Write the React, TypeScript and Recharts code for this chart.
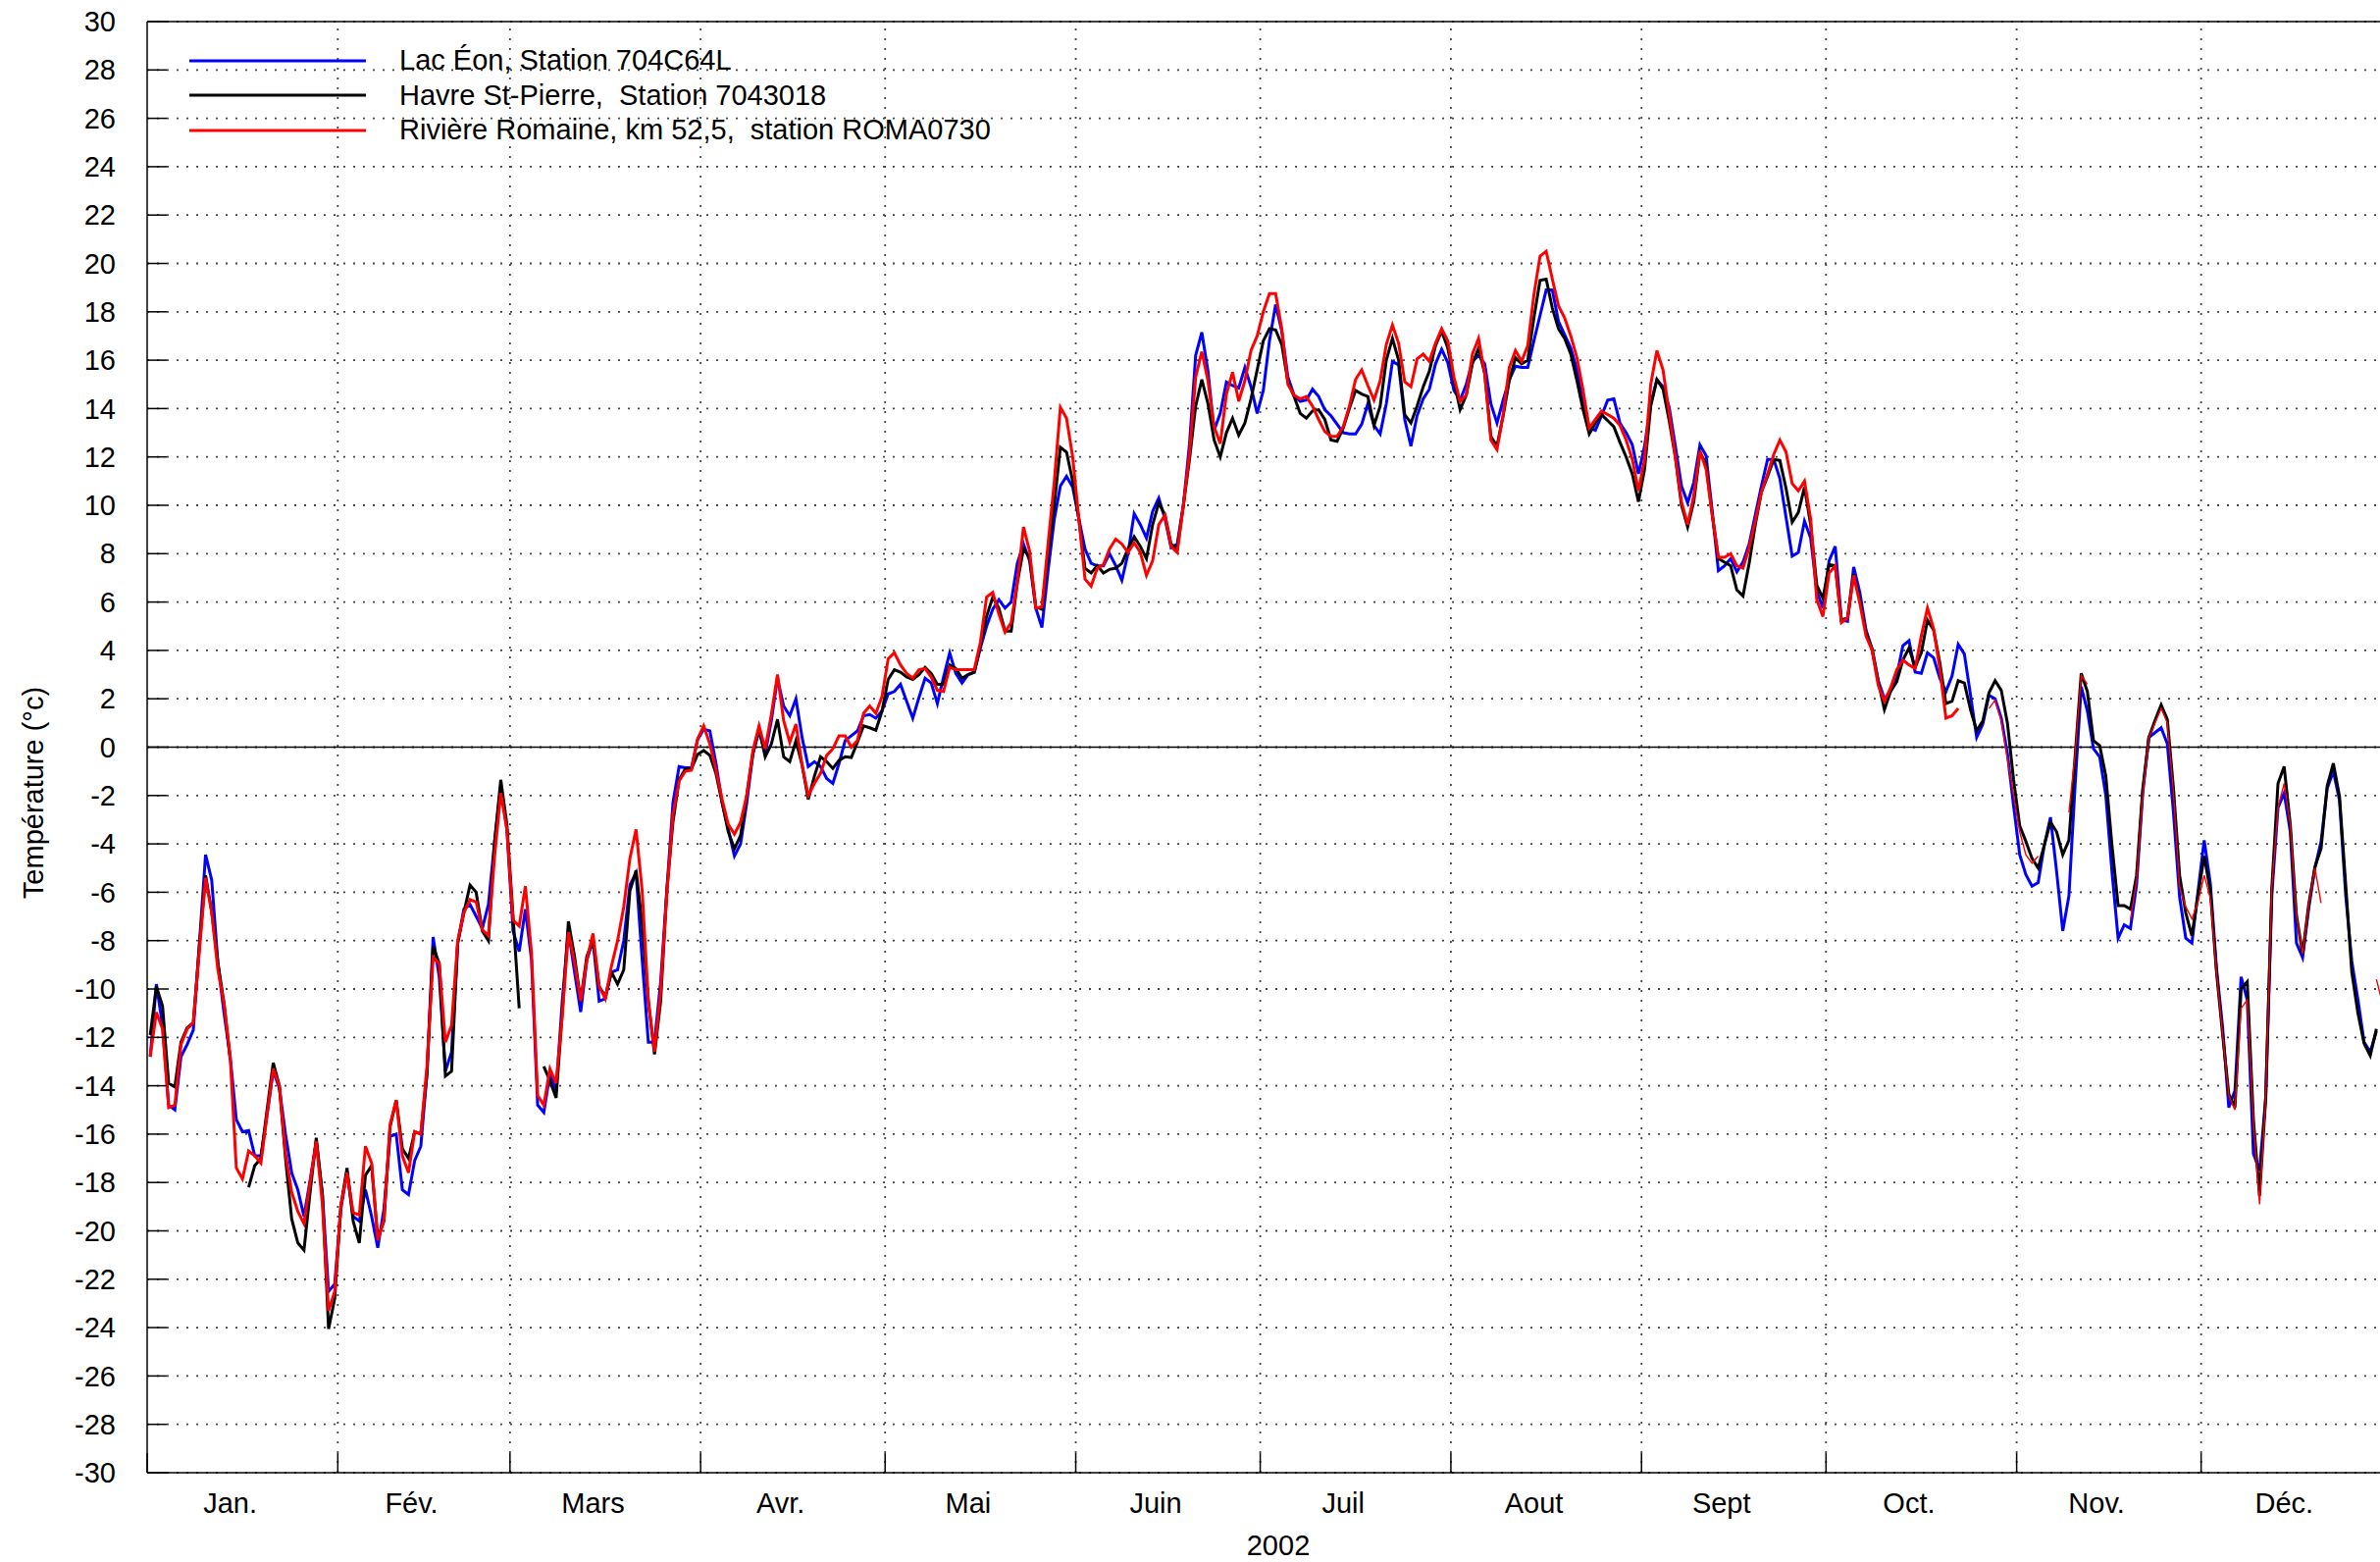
import React from 'react';
import { LineChart, Line, XAxis, YAxis, CartesianGrid, ReferenceLine } from 'recharts';

const FONT = "'Liberation Sans', Arial, sans-serif";

const monthLengths = [31, 28, 31, 30, 31, 30, 31, 31, 30, 31, 30, 31];
const monthNames = ['Jan.', 'Fév.', 'Mars', 'Avr.', 'Mai', 'Juin', 'Juil', 'Aout', 'Sept', 'Oct.', 'Nov.', 'Déc.'];
const yTicks = [-30, -28, -26, -24, -22, -20, -18, -16, -14, -12, -10, -8, -6, -4, -2, 0, 2, 4, 6, 8, 10, 12, 14, 16, 18, 20, 22, 24, 26, 28, 30];

// daily mean temperatures 2002, index 0 = 1 Jan
const lacEon = [
  -12.8, -9.8, -11.5, -14.8, -15.0, -12.8, -12.3, -11.7, -8.1, -4.45,
  -5.5, -8.9, -11.0, -12.8, -15.4, -15.9, -15.85, -16.9, -16.9, -15.2,
  -13.4, -14.1, -16.0, -17.6, -18.3, -19.4, -17.9, -16.3, -18.5, -22.5,
  -22.2, -19.1, -17.55, -19.4, -19.6, -18.3, -19.4, -20.7, -19.1, -16.1,
  -16.0, -18.3, -18.5, -17.1, -16.5, -13.5, -7.85, -9.5, -13.4, -12.6,
  -8.1, -6.7, -6.5, -7.0, -7.5, -6.5, -3.9, -1.65, -3.4, -7.6,
  -8.45, -6.7, -8.8, -14.8, -15.1, -13.5, -14.2, -10.5, -7.6, -9.3,
  -10.95, -8.8, -8.0, -10.5, -10.4, -9.3, -9.2, -8.0, -5.7, -5.2,
  -8.8, -12.2, -12.2, -9.7, -5.95, -2.3, -0.8, -0.85, -0.85, 0.3,
  0.74, 0.67, -0.68, -2.3, -3.4, -4.5, -4.0, -2.3, -0.27, 0.67,
  -0.27, 1.1, 2.85, 1.7, 1.3, 2.0, 0.4, -0.8, -0.6, -0.8,
  -1.3, -1.5, -0.68, 0.27, 0.47, 0.67, 1.3, 1.35, 1.2, 1.5,
  2.2, 2.3, 2.6, 1.9, 1.2, 2.05, 2.85, 2.65, 1.8, 2.9,
  3.9, 3.05, 2.65, 3.0, 3.1, 4.1, 5.0, 5.7, 6.1, 5.75,
  6.0, 7.6, 8.4, 7.7, 5.75, 4.95, 7.3, 9.4, 10.8, 11.2,
  10.75, 9.45, 8.2, 7.6, 7.5, 7.5, 8.0, 7.5, 6.9, 8.0,
  9.65, 9.2, 8.65, 9.75, 10.3, 9.45, 8.25, 8.4, 10.0, 12.55,
  16.2, 17.15, 15.55, 13.1, 13.8, 15.1, 14.95, 14.85, 15.7, 14.9,
  13.8, 14.75, 16.8, 18.3, 17.2, 15.3, 14.55, 14.3, 14.35, 14.8,
  14.5, 13.95, 13.7, 13.35, 13.0, 12.95, 12.95, 13.35, 14.2, 13.3,
  12.95, 14.2, 15.95, 15.8, 13.55, 12.45, 13.7, 14.4, 14.8, 15.85,
  16.45, 15.9, 14.75, 14.35, 15.0, 15.95, 16.2, 15.85, 14.2, 13.4,
  14.35, 15.2, 15.75, 15.7, 15.7, 16.8, 17.85, 18.9, 18.9, 17.6,
  17.05, 16.5, 15.6, 14.3, 13.2, 13.1, 13.7, 14.35, 14.4, 13.4,
  13.0, 12.5, 11.3, 12.45, 14.2, 15.2, 14.9, 14.05, 12.45, 10.8,
  10.1, 10.95, 12.5, 12.05, 9.75, 7.3, 7.5, 7.8, 7.25, 7.65,
  8.4, 9.6, 10.8, 11.9, 11.9, 11.1, 9.5, 7.9, 8.05, 9.35,
  8.65, 6.45, 5.75, 7.7, 8.3, 5.25, 5.2, 7.45, 6.4, 4.85,
  4.05, 2.75, 2.0, 2.3, 2.95, 4.2, 4.4, 3.1, 3.05, 3.9,
  3.7, 2.85, 2.3, 2.95, 4.25, 3.85, 2.15, 0.4, 0.95, 2.15,
  2.0, 1.2, -0.27, -2.43, -4.45, -5.27, -5.75, -5.6, -4.05, -2.9,
  -5.15, -7.6, -6.15, -1.6, 2.5, 1.5, -0.07, -0.4, -2.0, -5.15,
  -7.9, -7.35, -7.5, -5.7, -1.9, 0.4, 0.6, 0.8, 0.14, -2.7,
  -6.2, -7.9, -8.1, -5.95, -3.85, -5.65, -9.15, -11.6, -14.9, -14.2,
  -9.5, -10.45, -16.8, -17.5, -14.5, -6.1, -2.5, -1.9, -3.5, -8.1,
  -8.7, -6.65, -5.0, -3.9, -1.7, -1.0, -2.2, -6.1, -8.85, -10.45,
  -12.2, -12.6, -11.75,
];

const havre = [
  -11.9, -9.9, -10.7, -13.9, -14.05, -12.2, -11.6, -11.4, -8.2, -5.3,
  -6.8, -8.9, -10.6, -12.9, null, null, -18.2, -17.3, -17.0, -15.0,
  -13.05, -14.0, -17.0, -19.5, -20.5, -20.8, -18.4, -16.15, -18.5, -24.05,
  -22.8, -18.95, -17.4, -19.6, -20.5, -17.7, -17.3, -20.3, -19.6, -15.7,
  -14.6, -16.6, -17.0, -15.9, -16.0, -13.5, -8.25, -8.95, -13.6, -13.4,
  -8.1, -6.85, -5.7, -6.0, -7.6, -8.0, -3.9, -1.35, -3.2, -7.0,
  -10.8, null, null, null, -13.2, -13.8, -14.5, -11.0, -7.2, -8.65,
  -10.5, -8.65, -8.0, -9.9, -10.3, -9.3, -9.8, -9.2, -5.95, -5.1,
  -7.3, -10.5, -12.7, -10.5, -5.95, -3.1, -1.35, -0.9, -0.9, -0.3,
  -0.14, -0.34, -1.1, -2.3, -3.5, -4.2, -3.65, -2.0, -0.27, 0.8,
  -0.4, 0.13, 1.15, -0.4, -0.6, 0.27, -0.74, -2.16, -1.2, -0.4,
  -0.6, -0.88, -0.54, -0.4, -0.43, 0.2, 0.88, 0.8, 0.7, 1.5,
  2.8, 3.2, 3.1, 2.9, 2.8, 3.0, 3.3, 3.05, 2.6, 2.6,
  3.4, 3.25, 2.85, 3.0, 3.1, 4.2, 5.4, 6.2, 5.75, 4.8,
  4.8, 6.8, 8.2, 7.85, 5.8, 5.7, 8.0, 10.0, 12.4, 12.2,
  11.0, 9.45, 7.4, 7.2, 7.5, 7.2, 7.35, 7.4, 7.6, 8.2,
  8.7, 8.3, 7.8, 9.2, 10.1, 9.6, 8.4, 8.2, 10.0, 11.9,
  14.1, 15.2, 14.2, 12.7, 12.0, 13.0, 13.6, 12.9, 13.4, 14.4,
  15.6, 16.8, 17.3, 17.25, 16.65, 15.1, 14.5, 13.8, 13.6, 13.9,
  13.95, 13.55, 12.7, 12.65, 13.2, 14.0, 14.75, 14.6, 14.5, 13.3,
  14.1, 16.0, 16.9, 16.0, 13.75, 13.4, 14.1, 14.9, 15.55, 16.6,
  17.2, 16.5, 15.15, 13.95, 14.55, 15.85, 16.5, 15.45, 12.85, 12.45,
  13.7, 15.15, 16.1, 15.85, 16.0, 17.75, 19.3, 19.35, 18.15, 17.3,
  16.9, 16.25, 15.15, 13.95, 12.95, 13.4, 13.75, 13.5, 13.25, 12.6,
  12.0, 11.3, 10.15, 11.5, 14.1, 15.2, 14.8, 13.5, 12.0, 10.0,
  9.1, 10.15, 12.2, 11.7, 9.6, 7.8, 7.65, 7.5, 6.5, 6.25,
  7.6, 9.2, 10.55, 11.2, 11.9, 11.85, 10.7, 9.3, 9.7, 10.75,
  9.2, 6.7, 6.15, 7.55, 7.5, 5.25, 5.35, 7.15, 6.1, 4.75,
  4.05, 2.7, 1.55, 2.3, 2.7, 3.6, 4.1, 3.3, 3.9, 5.25,
  4.85, 3.5, 1.8, 1.9, 2.75, 2.65, 1.55, 0.68, 1.08, 2.25,
  2.75, 2.35, 1.0, -1.35, -3.25, -3.9, -4.6, -5.0, -4.05, -3.1,
  -3.5, -4.45, -3.85, -0.4, 3.05, 2.3, 0.27, 0.07, -1.2, -4.05,
  -6.55, -6.55, -6.7, -5.3, -1.75, 0.4, 1.1, 1.75, 1.15, -1.7,
  -5.3, -6.85, -7.8, -6.1, -4.5, -5.95, -9.3, -11.9, -14.35, -14.9,
  -10.0, -9.7, -15.4, -18.55, -14.5, -5.8, -1.5, -0.8, -3.2, -6.95,
  -8.55, -6.5, -4.95, -4.2, -1.6, -0.67, -2.04, -5.65, -9.3, -11.0,
  -12.25, -12.75, -11.65,
];

// station ROMA0730, thick trace up to 21 Oct
const romaine = [
  -12.8, -10.96, -11.65, -14.9, -14.8, -12.3, -11.65, -11.4, -8.4, -5.4,
  -6.85, -9.2, -10.6, -12.8, -17.4, -17.85, -16.7, -16.9, -17.2, -15.2,
  -13.3, -14.0, -16.8, -18.4, -19.2, -19.7, -18.0, -16.3, -18.9, -23.3,
  -22.5, -18.95, -17.6, -19.25, -19.35, -16.5, -17.2, -20.4, -19.55, -15.6,
  -14.6, -16.9, -17.6, -15.9, -16.0, -13.2, -8.7, -8.95, -12.2, -11.5,
  -8.0, -6.85, -6.3, -6.4, -7.55, -7.8, -4.5, -1.9, -3.4, -7.15,
  -7.4, -5.75, -8.5, -14.4, -14.8, -13.3, -13.9, -11.1, -7.65, -8.9,
  -10.5, -8.8, -7.7, -9.9, -10.4, -9.05, -8.0, -6.6, -4.6, -3.4,
  -5.95, -10.5, -12.6, -10.1, -6.1, -2.8, -1.4, -1.0, -0.95, 0.34,
  0.88, 0.13, -0.95, -2.16, -3.2, -3.6, -3.1, -2.0, -0.14, 0.88,
  -0.07, 1.35, 3.0, 1.1, 0.2, 0.95, -0.74, -2.0, -1.5, -1.08,
  -0.34, -0.07, 0.47, 0.47, 0.0, 0.27, 1.4, 1.7, 1.4, 2.1,
  3.65, 3.9, 3.4, 3.05, 2.85, 3.2, 3.25, 2.9, 2.35, 2.3,
  3.3, 3.2, 3.2, 3.2, 3.2, 4.35, 6.2, 6.4, 5.5, 4.75,
  5.15, 6.8, 9.1, 8.1, 5.75, 5.8, 8.4, 10.95, 14.05, 13.6,
  12.0, 9.45, 6.95, 6.65, 7.4, 7.55, 8.2, 8.6, 8.4, 8.05,
  8.45, 8.05, 7.1, 7.7, 9.2, 9.6, 8.3, 8.05, 10.0, 12.15,
  15.3, 16.35, 15.15, 13.25, 12.55, 14.6, 15.5, 14.3, 15.15, 16.4,
  17.0, 18.0, 18.75, 18.75, 17.3, 15.0, 14.55, 14.4, 14.5, 14.1,
  13.55, 13.05, 12.85, 12.85, 13.25, 14.1, 15.2, 15.6, 14.95, 14.35,
  15.15, 16.65, 17.45, 16.7, 15.1, 14.9, 16.05, 16.25, 15.95, 16.7,
  17.3, 16.8, 15.3, 14.3, 14.55, 16.25, 16.9, 15.45, 12.7, 12.3,
  13.75, 15.7, 16.4, 15.95, 16.6, 18.7, 20.3, 20.5, 19.35, 18.25,
  17.75, 17.0, 16.1, 14.75, 13.2, 13.55, 13.9, 13.75, 13.6, 13.3,
  12.7, 11.9, 10.6, 11.9, 15.0, 16.4, 15.6, 13.8, 12.0, 10.15,
  9.2, 10.4, 12.25, 11.5, 9.6, 7.85, 7.85, 8.0, 7.5, 7.4,
  8.25, 9.35, 10.55, 11.3, 12.1, 12.7, 12.2, 10.9, 10.6, 11.0,
  9.45, 6.1, 5.4, 7.2, 7.5, 5.15, 5.35, 7.1, 5.95, 4.6,
  4.0, 2.55, 1.9, 2.45, 3.2, 3.6, 3.4, 3.25, 4.6, 5.75,
  4.9, 3.25, 1.2, 1.3, 1.6,
];

// same station, thin trace from 22 Oct
const romaineLateStart = 295;
const romaineLate = [
  null, null, null, null, 1.6, 1.95, 1.1, -0.5, -2.0, -3.5,
  -4.45, -4.8, -4.5, null, null, null, null, -2.7, -0.3, 2.97,
  2.6, null, null, null, null, null, null, -7.15, -5.5, -2.0,
  0.4, 1.0, 1.6, 1.0, -1.9, -5.8, -6.6, -7.1, -6.4, -5.3,
  -6.25, -9.3, -11.9, -14.4, -15.0, -10.8, -10.45, -15.5, -18.9, -14.5,
  -5.8, -2.5, -1.5, -3.2, -6.95, -8.55, -6.5, -5.0, -6.45, null,
  null, null, null, null, null, null, null, -9.6, -10.6,
];

const series = [
  { key: 'lac', name: 'Lac Éon, Station 704C64L', color: '#0000ff' },
  { key: 'havre', name: 'Havre St-Pierre,  Station 7043018', color: '#000000' },
  { key: 'rom', name: 'Rivière Romaine, km 52,5,  station ROMA0730', color: '#ff0000' },
];

const monthStarts = monthLengths.reduce((acc, len) => [...acc, acc[acc.length - 1] + len], [0]);
const labelPos = monthLengths.map((len, i) => monthStarts[i] + len / 2 - 2);
const xTicks = [...monthStarts, ...labelPos].sort((a, b) => a - b);

const data = Array.from({ length: 365 }, (_, i) => ({
  x: i + 0.5,
  lac: lacEon[i] ?? null,
  havre: havre[i] ?? null,
  rom: romaine[i] ?? null,
  romLate: i >= romaineLateStart ? romaineLate[i - romaineLateStart] ?? null : null,
}));

function MonthTick({ x, y, payload }: any) {
  const idx = labelPos.findIndex((p) => Math.abs(p - payload.value) < 1e-6);
  if (idx >= 0) {
    return (
      <text x={x} y={y + 31} dy="0.35em" textAnchor="middle" fontSize={29} fontFamily={FONT} fill="#000">
        {monthNames[idx]}
      </text>
    );
  }
  return <line x1={x} y1={y} x2={x} y2={y - 20} stroke="#000" strokeWidth={1.5} />;
}

function LeftTick({ x, y, payload }: any) {
  return (
    <g>
      <line x1={x} y1={y} x2={x + 20} y2={y} stroke="#000" strokeWidth={1.5} />
      <text x={x - 32} y={y} dy="0.35em" textAnchor="end" fontSize={29} fontFamily={FONT} fill="#000">
        {payload.value}
      </text>
    </g>
  );
}

function RightTick({ x, y }: any) {
  return <line x1={x} y1={y} x2={x - 20} y2={y} stroke="#000" strokeWidth={1.5} />;
}

export default function App() {
  return (
    <div style={{ position: 'fixed', left: 0, top: 0, width: 2426, height: 1592, overflow: 'hidden', background: '#fff' }}>
      <LineChart width={2470} height={1592} data={data} margin={{ top: 22, right: 0, bottom: 0, left: 0 }}>
        <CartesianGrid vertical={false} stroke="#444" strokeWidth={1.8} strokeDasharray="2 8" />
        {monthStarts.slice(1, -1).map((m) => (
          <ReferenceLine key={m} x={m} stroke="#444" strokeWidth={1.8} strokeDasharray="2 8" />
        ))}
        <ReferenceLine y={0} stroke="#000" strokeWidth={1.5} />
        <ReferenceLine y={30} stroke="#000" strokeWidth={1.5} />
        <XAxis
          dataKey="x"
          type="number"
          domain={[0, 365]}
          allowDataOverflow
          ticks={xTicks}
          interval={0}
          tickSize={0}
          tickMargin={0}
          tickLine={false}
          tick={<MonthTick />}
          axisLine={{ stroke: '#000', strokeWidth: 1.5 }}
          height={91}
        />
        <YAxis
          type="number"
          domain={[-30, 30]}
          ticks={yTicks}
          interval={0}
          width={150}
          tickSize={0}
          tickMargin={0}
          tickLine={false}
          tick={<LeftTick />}
          axisLine={{ stroke: '#000', strokeWidth: 1.5 }}
        />
        <YAxis
          yAxisId="r"
          orientation="right"
          type="number"
          domain={[-30, 30]}
          ticks={yTicks}
          interval={0}
          width={32}
          tickSize={0}
          tickMargin={0}
          tickLine={false}
          tick={<RightTick />}
          axisLine={{ stroke: '#000', strokeWidth: 1.5 }}
        />
        <Line dataKey="lac" name={series[0].name} stroke="#0000ff" strokeWidth={3} dot={false} activeDot={false} isAnimationActive={false} />
        <Line dataKey="havre" name={series[1].name} stroke="#000000" strokeWidth={3} dot={false} activeDot={false} isAnimationActive={false} />
        <Line dataKey="rom" name={series[2].name} stroke="#ff0000" strokeWidth={3} dot={false} activeDot={false} isAnimationActive={false} />
        <Line dataKey="romLate" legendType="none" stroke="#ff0000" strokeWidth={1.4} dot={false} activeDot={false} isAnimationActive={false} />
      </LineChart>
      <div style={{ position: 'absolute', left: 193, top: 44, fontFamily: FONT, fontSize: 29, color: '#000' }}>
        {series.map((s) => (
          <div key={s.key} style={{ display: 'flex', alignItems: 'center', height: 35.5 }}>
            <svg width={180} height={6}>
              <line x1={0} y1={3} x2={180} y2={3} stroke={s.color} strokeWidth={3} />
            </svg>
            <span style={{ marginLeft: 34, whiteSpace: 'pre', lineHeight: '35.5px' }}>{s.name}</span>
          </div>
        ))}
      </div>
      <div style={{ position: 'absolute', left: 34, top: 808, transform: 'translate(-50%, -50%) rotate(-90deg)', whiteSpace: 'nowrap', fontFamily: FONT, fontSize: 29 }}>
        Température (°c)
      </div>
      <div style={{ position: 'absolute', left: 1303, top: 1575, transform: 'translate(-50%, -50%)', fontFamily: FONT, fontSize: 29 }}>
        2002
      </div>
    </div>
  );
}
